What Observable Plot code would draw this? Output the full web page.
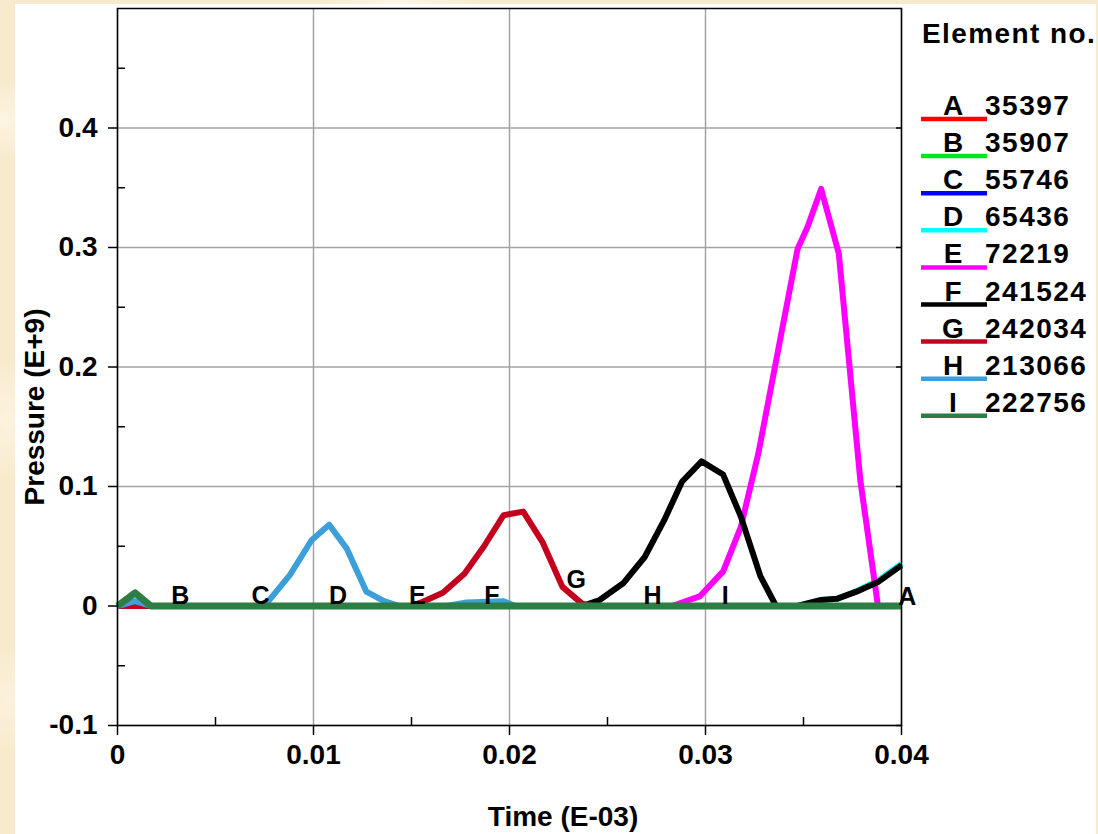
<!DOCTYPE html>
<html>
<head>
<meta charset="utf-8">
<script src="https://cdn.jsdelivr.net/npm/d3@7"></script>
<script src="https://cdn.jsdelivr.net/npm/@observablehq/plot@0.6"></script>
<style>
  html, body { margin: 0; padding: 0; }
  body {
    width: 1098px; height: 834px; position: relative; overflow: hidden;
    background-color: #f8ebcd;
    background-image:
      radial-gradient(ellipse 60px 40px at 6px 120px, #fcf4e2 0%, rgba(252,244,226,0) 100%),
      radial-gradient(ellipse 50px 60px at 8px 420px, #fcf3df 0%, rgba(252,243,223,0) 100%),
      radial-gradient(ellipse 80px 40px at 400px 2px, #fdf5e4 0%, rgba(253,245,228,0) 100%),
      radial-gradient(ellipse 60px 50px at 6px 700px, #fbf1dc 0%, rgba(251,241,220,0) 100%);
  }
  #panel { position: absolute; left: 15px; top: 4px; width: 1081px; height: 830px; background: #ffffff; }
  #chart { position: absolute; left: 0; top: 0; }
  #legend { position: absolute; left: 0; top: 0; pointer-events: none; }
</style>
</head>
<body>
<div id="panel"></div>
<div id="chart"></div>
<svg id="legend" width="1098" height="834"></svg>
<script>
// ---------- data ----------
const seriesLetters = ["A", "B", "C", "D", "E", "F", "G", "H", "I"];
const elementNos = ["35397", "35907", "55746", "65436", "72219", "241524", "242034", "213066", "222756"];
const seriesColors = ["#ff0000", "#00e61e", "#0000ff", "#00ffff", "#ff00ff", "#000000", "#c4001f", "#3d9fda", "#2c7e44"];

// time in units of the x axis (E-03), pressure in E+9
const timeA = [0, 0.04];
const pressA = [0, 0];
const timeB = [0, 0.04];
const pressB = [0, 0];
const timeC = [0, 0.04];
const pressC = [0, 0];
const timeD = [0, 0.0347, 0.0359, 0.0367, 0.0377, 0.0388, 0.0399, 0.04];
const pressD = [0, 0, 0.005, 0.006, 0.0123, 0.0212, 0.0342, 0.0355];
const timeE = [0, 0.0283, 0.0297, 0.0309, 0.0318, 0.0327, 0.0336, 0.0347, 0.0352, 0.0359, 0.0368, 0.0379, 0.0388, 0.04];
const pressE = [0, 0, 0.008, 0.029, 0.066, 0.128, 0.205, 0.299, 0.317, 0.349, 0.295, 0.105, 0, 0];
const timeF = [0, 0.0237, 0.0246, 0.0258, 0.0269, 0.0279, 0.0288, 0.0298, 0.0309, 0.0318, 0.0328, 0.0336, 0.0347, 0.0359, 0.0367, 0.0377, 0.0388, 0.0399, 0.04];
const pressF = [0, 0, 0.005, 0.019, 0.041, 0.072, 0.104, 0.121, 0.110, 0.075, 0.025, 0, 0, 0.005, 0.006, 0.012, 0.020, 0.033, 0.034];
const timeG = [0, 0.0150, 0.0155, 0.0166, 0.0177, 0.0187, 0.0197, 0.0207, 0.0217, 0.0227, 0.0237, 0.0242, 0.04];
const pressG = [0, 0, 0.003, 0.011, 0.027, 0.050, 0.076, 0.079, 0.053, 0.016, 0.002, 0, 0];
const timeH = [0, 0.0009, 0.0017, 0.0072, 0.0077, 0.0088, 0.0099, 0.0108, 0.0117, 0.0127, 0.0136, 0.0144, 0.0168, 0.0178, 0.0197, 0.0203, 0.04];
const pressH = [0, 0.004, 0, 0, 0.004, 0.026, 0.055, 0.068, 0.048, 0.012, 0.004, 0, 0, 0.003, 0.004, 0, 0];
const timeI = [0, 0.0009, 0.0017, 0.04];
const pressI = [0, 0.011, 0, 0];

const seriesTimes = [timeA, timeB, timeC, timeD, timeE, timeF, timeG, timeH, timeI];
const seriesPress = [pressA, pressB, pressC, pressD, pressE, pressF, pressG, pressH, pressI];

// on-curve letter labels
const labelLetters = ["B", "C", "D", "E", "F", "G", "H", "I", "A"];
const labelTimes = [0.0032, 0.0073, 0.01125, 0.0153, 0.0191, 0.0234, 0.0273, 0.0310, 0.0403];
const labelPress = [0.0017, 0.0017, 0.0017, 0.0017, 0.0017, 0.015, 0.0017, 0.0017, 0.0010];

// axes
const xTicks = [0, 0.01, 0.02, 0.03, 0.04];
const xTickLabels = ["0", "0.01", "0.02", "0.03", "0.04"];
const xMinorTicks = [0.005, 0.015, 0.025, 0.035];
const yTicks = [-0.1, 0, 0.1, 0.2, 0.3, 0.4];
const yTickLabels = ["-0.1", "0", "0.1", "0.2", "0.3", "0.4"];
const yMinorTicks = [-0.05, 0.05, 0.15, 0.25, 0.35, 0.45];
const xDomain = [0, 0.04];
const yDomain = [-0.1, 0.5];
const xTitle = "Time (E-03)";
const yTitle = "Pressure (E+9)";
const legendTitle = "Element no.";

// ---------- chart ----------
const FONT = "Arial, 'Liberation Sans', sans-serif";

const lineMarks = seriesLetters.map((s, i) => {
  const rows = seriesTimes[i].map((t, j) => ({t, p: seriesPress[i][j]}));
  return Plot.line(rows, {
    x: "t", y: "p", stroke: seriesColors[i],
    strokeWidth: s === "I" ? 7 : 6, strokeLinejoin: "round", strokeLinecap: "butt"
  });
});

const labelRows = labelLetters.map((l, i) => ({l, t: labelTimes[i], p: labelPress[i]}));

const chart = Plot.plot({
  width: 1098,
  height: 834,
  marginLeft: 117,
  marginRight: 197,
  marginTop: 8,
  marginBottom: 109,
  style: {background: "transparent", fontFamily: FONT, fontWeight: "bold", color: "#000", overflow: "visible"},
  x: {domain: xDomain},
  y: {domain: yDomain},
  marks: [
    Plot.gridX({ticks: xTicks, stroke: "#a3a3a3", strokeOpacity: 1, strokeWidth: 1.5}),
    Plot.gridY({ticks: yTicks, stroke: "#a3a3a3", strokeOpacity: 1, strokeWidth: 1.5}),
    Plot.axisX({ticks: xTicks, tickSize: 10, tickPadding: 9, fontSize: 28, fontWeight: "bold",
      tickFormat: d => xTickLabels[xTicks.indexOf(d)], label: null, strokeWidth: 1.5}),
    Plot.axisX({ticks: xMinorTicks, tickSize: 8, dy: -8, tickFormat: () => "", label: null, strokeWidth: 1.5}),
    Plot.axisY({ticks: yTicks, tickSize: 9, tickPadding: 11, fontSize: 28, fontWeight: "bold",
      tickFormat: d => yTickLabels[yTicks.indexOf(d)], label: null, strokeWidth: 1.5}),
    Plot.axisY({ticks: yMinorTicks, tickSize: 8, dx: 8, tickFormat: () => "", label: null, strokeWidth: 1.5}),
    Plot.axisY({anchor: "right", ticks: yTicks, tickSize: 6, dx: -6, tickFormat: () => "", label: null, strokeWidth: 1.5}),
    ...lineMarks,
    Plot.text(labelRows, {x: "t", y: "p", text: "l", lineAnchor: "bottom", fontSize: 25, fontWeight: "bold", fill: "#000", clip: false}),
    Plot.frame({stroke: "#000", strokeWidth: 1.5})
  ]
});
document.getElementById("chart").appendChild(chart);

// ---------- axis titles and legend ----------
const lg = d3.select("#legend").style("font-family", FONT).style("font-weight", "bold");
lg.append("text").attr("x", 563).attr("y", 826).attr("text-anchor", "middle")
  .attr("font-size", 28).attr("fill", "#000").text(xTitle);
lg.append("text").attr("transform", "translate(44,407) rotate(-90)").attr("text-anchor", "middle")
  .attr("font-size", 28).attr("fill", "#000").text(yTitle);

lg.append("text").attr("x", 922).attr("y", 43).attr("font-size", 28).attr("fill", "#000")
  .attr("letter-spacing", 1.4).text(legendTitle);
const rowStep = 37.1;
seriesLetters.forEach((s, i) => {
  const base = 115 + i * rowStep;
  lg.append("line").attr("x1", 921).attr("x2", 987).attr("y1", base + 4).attr("y2", base + 4)
    .attr("stroke", seriesColors[i]).attr("stroke-width", 4.5);
  lg.append("text").attr("x", 953).attr("y", base).attr("text-anchor", "middle")
    .attr("font-size", 28).attr("fill", "#000").text(s);
  lg.append("text").attr("x", 985).attr("y", base).attr("font-size", 28)
    .attr("letter-spacing", 1.5).attr("fill", "#000").text(elementNos[i]);
});
</script>
</body>
</html>
